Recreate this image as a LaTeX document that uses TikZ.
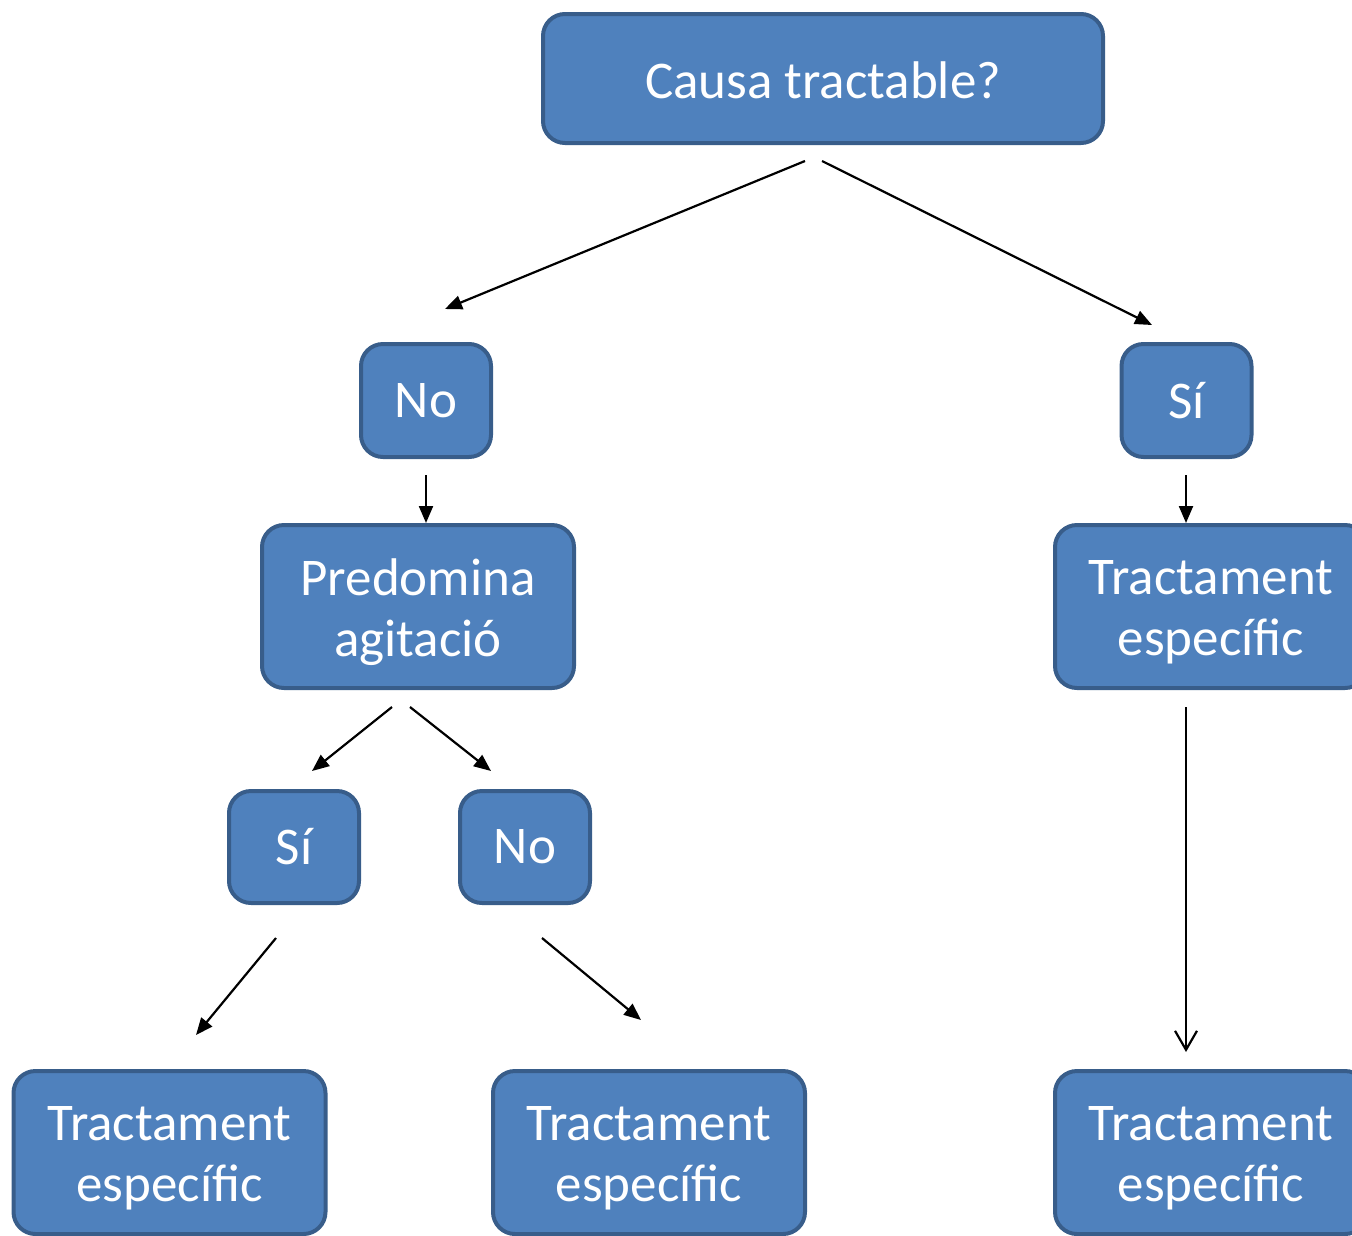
\documentclass[tikz,border=0pt]{standalone}
\usepackage{fontspec}
\setmainfont{Carlito}
\usetikzlibrary{arrows.meta}
\definecolor{boxfill}{HTML}{4F81BD}
\definecolor{boxline}{HTML}{385D8A}
\newcommand\lowertxt[1]{\raisebox{-6pt}[\height][\depth]{#1}}
\tikzset{
  box/.style={draw=boxline, fill=boxfill, line width=4pt, rounded corners=22pt,
    text=white, align=center, inner sep=0pt, font=\fontsize{53}{61}\selectfont},
  arr/.style={line width=2.2pt, -{Triangle[length=17pt,width=14pt]}},
  arropen/.style={line width=2.2pt, -{Straight Barb[length=19pt,width=22pt,line width=2.2pt]}}
}
\begin{document}
\begin{tikzpicture}[x=1pt,y=-1pt]
\clip (0,0) rectangle (1352,1235);
\node[box, minimum width=560pt, minimum height=129pt] (top) at (823,78.5) {\raisebox{-2pt}[\height][\depth]{Causa tractable?}};
\node[box, minimum width=130pt, minimum height=113pt] (no1) at (426,400.5) {No};
\node[box, minimum width=130pt, minimum height=113pt] (si1) at (1186.5,400.5) {Sí};
\node[box, minimum width=312pt, minimum height=163pt] (pred) at (418,606.5) {\lowertxt{Predomina}\\\lowertxt{agitació}};
\node[box, minimum width=312pt, minimum height=163pt] (trR1) at (1211,606.5) {\lowertxt{Tractament}\\\lowertxt{específic}};
\node[box, minimum width=130pt, minimum height=112pt] (si2) at (294,847) {Sí};
\node[box, minimum width=130pt, minimum height=112pt] (no2) at (525,847) {No};
\node[box, minimum width=312pt, minimum height=163pt] (trL) at (169.5,1152.5) {\lowertxt{Tractament}\\\lowertxt{específic}};
\node[box, minimum width=312pt, minimum height=163pt] (trM) at (649,1152.5) {\lowertxt{Tractament}\\\lowertxt{específic}};
\node[box, minimum width=312pt, minimum height=163pt] (trR2) at (1211,1152.5) {\lowertxt{Tractament}\\\lowertxt{específic}};
% arrow end points
\coordinate (a1s) at (805,161); \coordinate (a1e) at (445,309);
\coordinate (a2s) at (822,161); \coordinate (a2e) at (1152,325);
\coordinate (a3s) at (426,475); \coordinate (a3e) at (426,523);
\coordinate (a4s) at (1186,475); \coordinate (a4e) at (1186,523);
\coordinate (a5s) at (392,707); \coordinate (a5e) at (312,771);
\coordinate (a6s) at (410,707); \coordinate (a6e) at (491,771);
\coordinate (a7s) at (276,938); \coordinate (a7e) at (196,1035);
\coordinate (a8s) at (542,938); \coordinate (a8e) at (641,1020);
\coordinate (a9s) at (1186,707); \coordinate (a9e) at (1186,1052);
\draw[arr] (a1s) -- (a1e);
\draw[arr] (a2s) -- (a2e);
\draw[arr] (a3s) -- (a3e);
\draw[arr] (a4s) -- (a4e);
\draw[arr] (a5s) -- (a5e);
\draw[arr] (a6s) -- (a6e);
\draw[arr] (a7s) -- (a7e);
\draw[arr] (a8s) -- (a8e);
\draw[arropen] (a9s) -- (a9e);
\end{tikzpicture}
\end{document}
